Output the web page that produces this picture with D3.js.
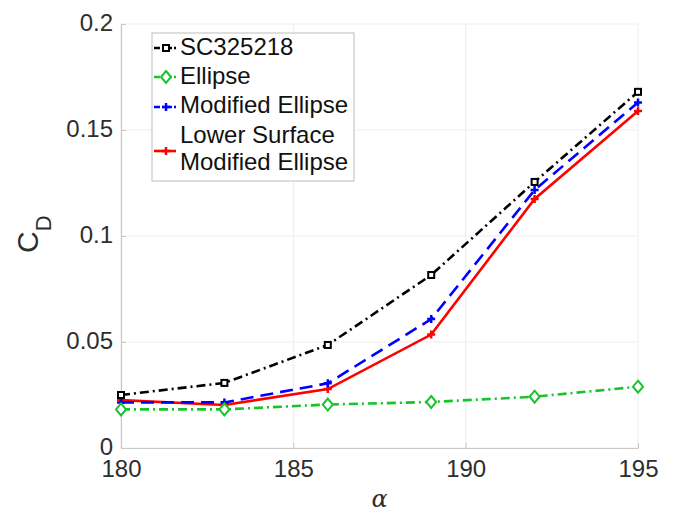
<!DOCTYPE html>
<html>
<head>
<meta charset="utf-8">
<script src="https://cdn.jsdelivr.net/npm/d3@7"></script>
<style>
  body { margin: 0; background: #fff; }
  text { font-family: "Liberation Sans", Arial, sans-serif; }
</style>
</head>
<body>
<script>
const alpha = [180, 183, 186, 189, 192, 195];
const sc325218 = [0.0250, 0.0307, 0.0486, 0.0816, 0.1255, 0.1680];
const ellipse = [0.0182, 0.0182, 0.0205, 0.0217, 0.0242, 0.0289];
const modEllipse = [0.0215, 0.0215, 0.0305, 0.0608, 0.1217, 0.1630];
const lowerSurf = [0.0226, 0.0203, 0.0278, 0.0535, 0.1175, 0.1590];
const xTicks = [180, 185, 190, 195];
const yTicks = [0, 0.05, 0.1, 0.15, 0.2];

const width = 677, height = 515;
const margin = {left: 121, right: 39, top: 24, bottom: 67};

const svg = d3.select('body').append('svg')
    .attr('width', width)
    .attr('height', height);

const x = d3.scaleLinear().domain([180, 195]).range([margin.left, width - margin.right]);
const y = d3.scaleLinear().domain([0, 0.2]).range([height - margin.bottom, margin.top]);

// grid
svg.append('g').selectAll('line.v').data(xTicks).enter().append('line')
    .attr('x1', d => x(d)).attr('x2', d => x(d))
    .attr('y1', y(0)).attr('y2', y(0.2))
    .attr('stroke', '#ededed').attr('stroke-width', 1);
svg.append('g').selectAll('line.h').data(yTicks).enter().append('line')
    .attr('x1', x(180)).attr('x2', x(195))
    .attr('y1', d => y(d)).attr('y2', d => y(d))
    .attr('stroke', '#ededed').attr('stroke-width', 1);

// axes
const xAxis = svg.append('g')
    .attr('transform', 'translate(0,' + y(0) + ')')
    .call(d3.axisBottom(x).tickValues(xTicks).tickFormat(d3.format('d')).tickSizeInner(-5).tickSizeOuter(0).tickPadding(10));
const yAxis = svg.append('g')
    .attr('transform', 'translate(' + x(180) + ',0)')
    .call(d3.axisLeft(y).tickValues(yTicks).tickFormat(d => d === 0 ? '0' : String(+d.toFixed(2))).tickSizeInner(-5).tickSizeOuter(0).tickPadding(8));
[xAxis, yAxis].forEach(a => {
    a.select('.domain').attr('stroke', '#c8c8c8').attr('stroke-width', 1.2);
    a.selectAll('.tick line').attr('stroke', '#c8c8c8');
    a.selectAll('.tick text').attr('fill', '#2e2e2e').style('font-size', '24px')
        .style('font-family', '"Liberation Sans", Arial, sans-serif');
});
xAxis.selectAll('.tick text').attr('dy', '0.8em');
yAxis.selectAll('.tick text').attr('dy', '0.28em');

// axis labels
svg.append('text')
    .attr('transform', 'translate(38,' + ((y(0) + y(0.2)) / 2 + 17) + ') rotate(-90)')
    .attr('fill', '#2e2e2e')
    .style('font-size', '30px')
    .html('C<tspan dy="13" font-size="22px">D</tspan>');
svg.append('text')
    .attr('x', (x(180) + x(195)) / 2)
    .attr('y', 507)
    .attr('text-anchor', 'middle')
    .attr('fill', '#2e2e2e')
    .style('font-family', '"DejaVu Serif", "Liberation Serif", serif')
    .style('font-style', 'italic')
    .style('font-size', '24px')
    .text('α');

const line = d3.line().x(d => x(d[0])).y(d => y(d[1]));

const series = [
    {name: 'SC325218', vals: sc325218, color: '#000000', dash: '9,4,2,4', marker: 'square'},
    {name: 'Ellipse', vals: ellipse, color: '#17c42a', dash: '9,4,2,4', marker: 'diamond'},
    {name: 'Modified Ellipse', vals: modEllipse, color: '#0000ff', dash: '13,7', marker: 'plus'},
    {name: 'Lower Surface|Modified Ellipse', vals: lowerSurf, color: '#ff0000', dash: null, marker: 'plus'}
];

function drawMarker(g, m, cx, cy, color) {
    if (m === 'square') {
        g.append('rect').attr('x', cx - 3).attr('y', cy - 3).attr('width', 6).attr('height', 6)
            .attr('fill', '#fff').attr('stroke', color).attr('stroke-width', 2);
    } else if (m === 'diamond') {
        g.append('path').attr('d', `M${cx},${cy - 6}L${cx + 5},${cy}L${cx},${cy + 6}L${cx - 5},${cy}Z`)
            .attr('fill', '#fff').attr('stroke', color).attr('stroke-width', 2);
    } else {
        g.append('path').attr('d', `M${cx - 4},${cy}H${cx + 4}M${cx},${cy - 4}V${cy + 4}`)
            .attr('stroke', color).attr('stroke-width', 2.5);
    }
}

// draw in reverse so black is on top
series.slice().reverse().forEach(s => {
    const pts = alpha.map((a, i) => [a, s.vals[i]]);
    const g = svg.append('g');
    g.append('path').datum(pts)
        .attr('d', line)
        .attr('fill', 'none')
        .attr('stroke', s.color)
        .attr('stroke-width', 2.6)
        .attr('stroke-dasharray', s.dash);
    pts.forEach(p => drawMarker(g, s.marker, x(p[0]), y(p[1]), s.color));
});

// legend
const lg = svg.append('g');
lg.append('rect').attr('x', 152).attr('y', 33).attr('width', 202).attr('height', 148)
    .attr('fill', '#fff').attr('stroke', '#bdbdbd').attr('stroke-width', 1);
const rowY = [48, 77, 107, 151];
const baseY = [[55], [84], [113], [143, 170]];
series.forEach((s, i) => {
    const cy = rowY[i];
    lg.append('line').attr('x1', 154).attr('x2', 176).attr('y1', cy).attr('y2', cy)
        .attr('stroke', s.color).attr('stroke-width', 2.6)
        .attr('stroke-dasharray', s.dash ? '6,2,2,2' : null);
    drawMarker(lg, s.marker, 166, cy, s.color);
    const t = lg.append('text').attr('fill', '#111').style('font-size', '24px');
    s.name.split('|').forEach((txt, j) => {
        t.append('tspan').attr('x', 180).attr('y', baseY[i][j]).text(txt);
    });
});
</script>
</body>
</html>
